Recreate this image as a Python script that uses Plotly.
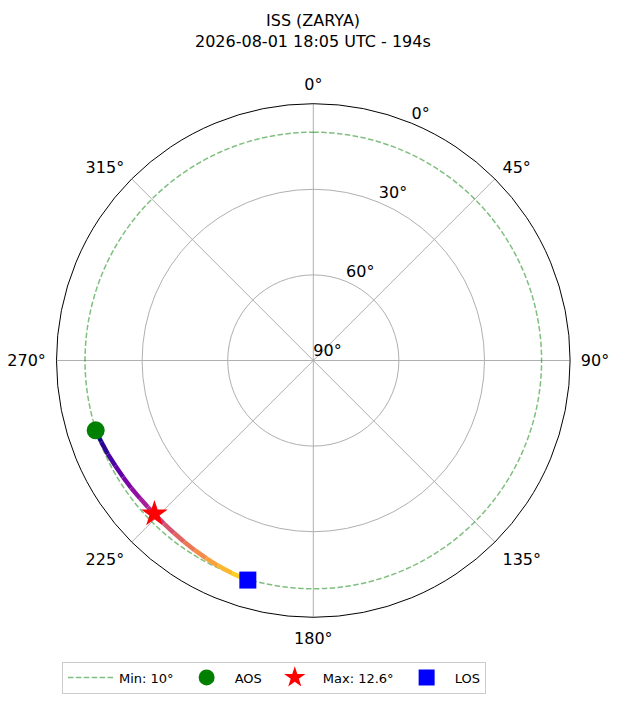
import numpy as np
import plotly.graph_objects as go
from plotly.colors import sample_colorscale

# ---- data ----
title_lines = ["ISS (ZARYA)", "2026-08-01 18:05 UTC - 194s"]
track_az = [252.2, 249.0, 245.5, 242.0, 238.5, 235.0, 231.5, 228.5, 226.0,
            222.5, 219.0, 215.5, 212.0, 208.5, 205.0, 201.0, 196.6]
track_el = [9.9, 10.4, 10.9, 11.4, 11.8, 12.1, 12.4, 12.55, 12.6,
            12.5, 12.3, 12.0, 11.6, 11.2, 10.7, 10.2, 9.7]
min_el = 10
aos = (252.2, 9.9)
max_pt = (226.0, 12.6)
los = (196.6, 9.7)
az_ticks = [0, 45, 90, 135, 180, 225, 270, 315]
az_labels = ["0°", "45°", "90°", "135°", "180°", "225°", "270°", "315°"]
r_ticks = [0, 30, 60, 90]
r_labels = ["90°", "60°", "30°", "0°"]
r_label_angle = 22.5

W, H = 620, 702
OFF = 8  # page offset compensation (px)
FONT = "DejaVu Sans"

def px_x(x):
    return (x - OFF) / W

def px_y(y):
    return 1 - (y - OFF) / H

def to_r(el):
    return 90 - np.asarray(el, dtype=float)

fig = go.Figure()

# min elevation circle
circ_theta = np.linspace(0, 360, 361)
fig.add_trace(go.Scatterpolar(
    r=to_r(np.full_like(circ_theta, min_el)), theta=circ_theta, mode="lines",
    line=dict(color="rgba(0,128,0,0.5)", width=1.5, dash="5.5px,2.4px"),
    name=f"Min: {min_el}°", showlegend=True, hoverinfo="skip"))

# radial (elevation) labels
fig.add_trace(go.Scatterpolar(
    r=r_ticks, theta=[r_label_angle] * len(r_ticks), mode="text",
    text=r_labels, textposition="top right", cliponaxis=False,
    textfont=dict(size=16, color="black", family=FONT),
    showlegend=False, hoverinfo="skip"))

# gradient track
n = len(track_az)
cols = sample_colorscale("Plasma", [i / (n - 2) * 0.9 for i in range(n - 1)])
r_track = to_r(track_el)
for i in range(n - 1):
    fig.add_trace(go.Scatterpolar(
        r=r_track[i:i + 2], theta=track_az[i:i + 2], mode="lines",
        line=dict(color=cols[i], width=4.5), showlegend=False, hoverinfo="skip"))

fig.add_trace(go.Scatterpolar(
    r=to_r([aos[1]]), theta=[aos[0]], mode="markers",
    marker=dict(symbol="circle", size=18, color="green"), name="AOS"))
fig.add_trace(go.Scatterpolar(
    r=to_r([max_pt[1]]), theta=[max_pt[0]], mode="markers",
    marker=dict(symbol="star", size=20, color="red"), name=f"Max: {max_pt[1]}°"))
fig.add_trace(go.Scatterpolar(
    r=to_r([los[1]]), theta=[los[0]], mode="markers",
    marker=dict(symbol="square", size=17, color="blue"), name="LOS"))

fig.update_layout(
    width=W, height=H,
    margin=dict(l=0, r=0, t=0, b=0),
    paper_bgcolor="white",
    font=dict(family=FONT, size=16, color="black"),
    annotations=[
        dict(text=title_lines[0], x=px_x(313.3), y=px_y(20.5), xref="paper",
             yref="paper", xanchor="center", yanchor="middle",
             showarrow=False, font=dict(size=16)),
        dict(text=title_lines[1], x=px_x(313.3), y=px_y(41), xref="paper",
             yref="paper", xanchor="center", yanchor="middle",
             showarrow=False, font=dict(size=16)),
    ],
    polar=dict(
        domain=dict(x=[px_x(56.3), px_x(570.3)], y=[px_y(617.3), px_y(103.7)]),
        bgcolor="white",
        angularaxis=dict(direction="clockwise", rotation=90,
                         tickmode="array", tickvals=az_ticks, ticktext=az_labels,
                         showline=True, linecolor="black", linewidth=1,
                         gridcolor="#b0b0b0", gridwidth=1,
                         ticks="outside", ticklen=7, tickcolor="rgba(0,0,0,0)",
                         tickfont=dict(size=16)),
        radialaxis=dict(range=[0, 90], tickmode="array", tickvals=r_ticks,
                        showticklabels=False, showline=False,
                        gridcolor="#b0b0b0", gridwidth=1, ticks=""),
    ),
    legend=dict(orientation="h", x=px_x(62), xanchor="left",
                y=px_y(677.5), yanchor="middle",
                bordercolor="#cccccc", borderwidth=1, bgcolor="white",
                font=dict(size=13), itemwidth=46),
    showlegend=True,
)

fig.write_html("out.html")
